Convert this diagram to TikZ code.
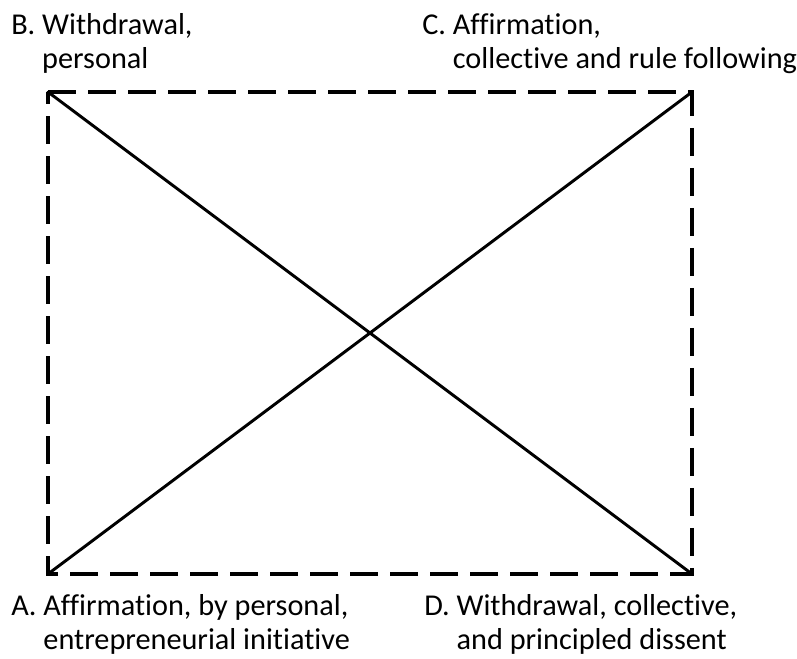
\documentclass[tikz,border=0pt]{standalone}
\usepackage{fontspec}
\setmainfont[Ligatures=NoCommon]{Carlito}
\usepackage{tikz}
\usetikzlibrary{positioning}

\tikzset{
  corner label/.style={anchor=base west, inner sep=0pt, align=left,
    font=\fontsize{22.7}{26}\selectfont},
  frame line/.style={line width=2.3pt, dash pattern=on 21pt off 9pt},
  cross line/.style={line width=2.2pt, line cap=round}
}

\begin{document}
\begin{tikzpicture}[x=0.75pt,y=0.75pt]
    \useasboundingbox (0,0) rectangle (797,659);

    % corners of the frame
    \coordinate (a) at (48,85);
    \coordinate (b) at (48,567);
    \coordinate (c) at (692,567);
    \coordinate (d) at (692,85);

    % dashed frame
    \draw[frame line] (b) -- (c) -- (d) -- (a) -- cycle;

    % diagonals
    \draw[cross line] (a) -- (c);
    \draw[cross line] (b) -- (d);

    % labels (anchored at the baseline of the second line)
    \node[corner label] (lb) at (11,590) {B.~Withdrawal,\\\hphantom{B.~}personal};
    \node[corner label] (lc) at (422,590) {C.~Affirmation,\\\hphantom{C.~}collective and rule following};
    \node[corner label] (la) at (11,9) {A.~Affirmation, by personal,\\\hphantom{A.~}entrepreneurial initiative};
    \node[corner label] (ld) at (424,9) {D.~Withdrawal, collective,\\\hphantom{D.~}and principled dissent};
\end{tikzpicture}
\end{document}
